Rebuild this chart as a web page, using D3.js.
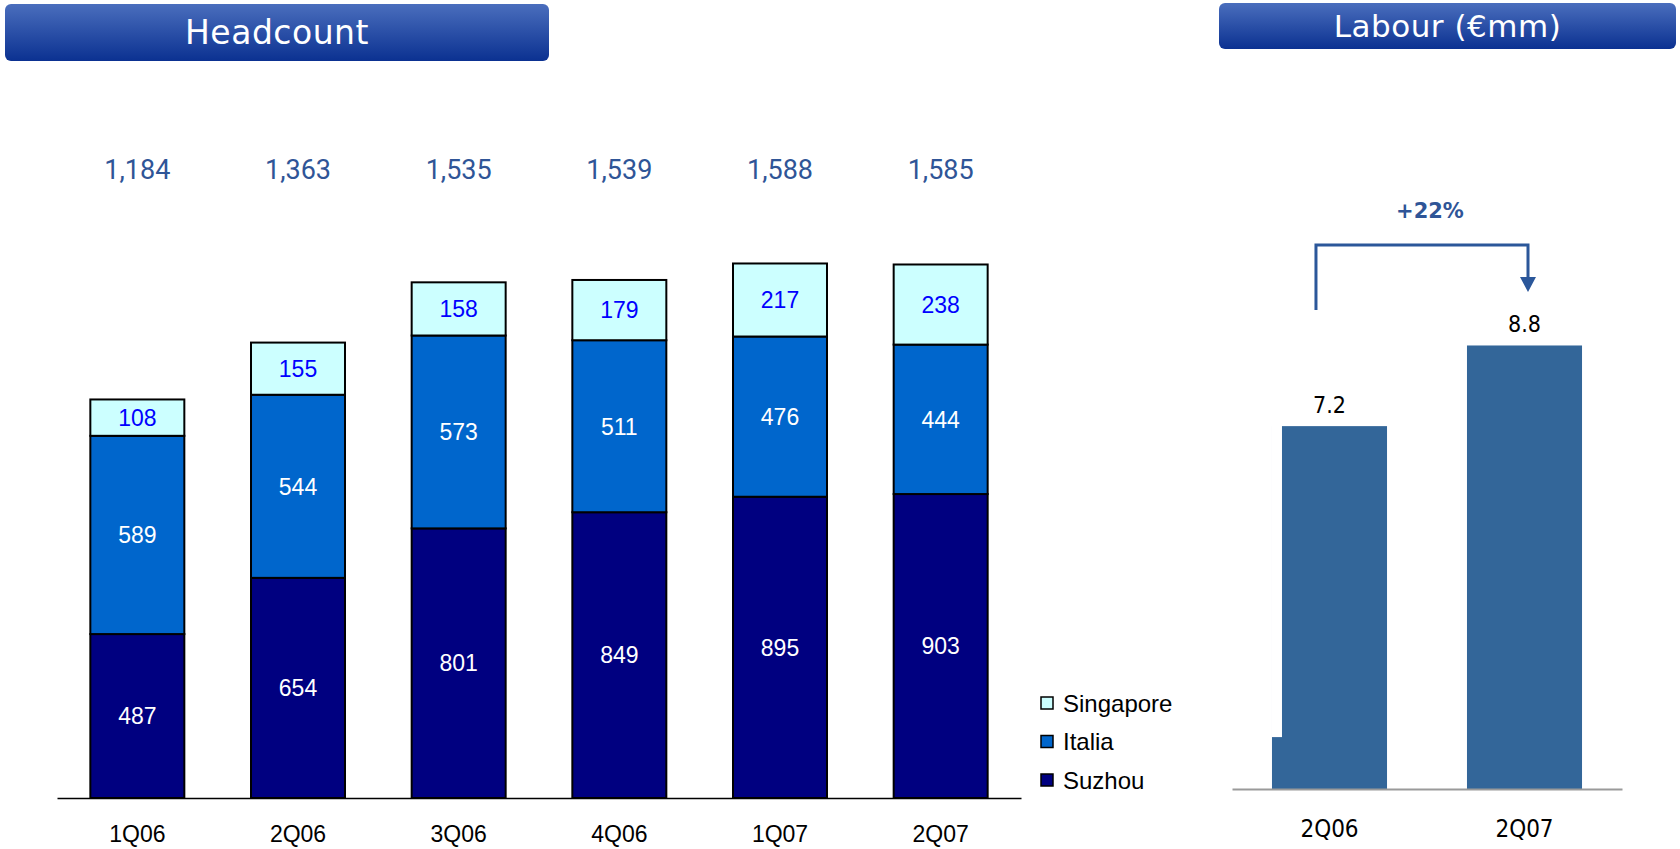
<!DOCTYPE html>
<html>
<head>
<meta charset="utf-8">
<script src="https://cdn.jsdelivr.net/npm/d3@7/dist/d3.min.js"></script>
<style>
  html, body { margin: 0; padding: 0; background: #ffffff; }
  svg { display: block; }
</style>
</head>
<body>
<svg id="chart" width="1680" height="849"></svg>
<script>
// Headcount by site, per quarter
const quarters = ["1Q06", "2Q06", "3Q06", "4Q06", "1Q07", "2Q07"];
const suzhou    = [487, 654, 801, 849, 895, 903];
const italia    = [589, 544, 573, 511, 476, 444];
const singapore = [108, 155, 158, 179, 217, 238];
const totals    = ["1,184", "1,363", "1,535", "1,539", "1,588", "1,585"];
const siteNames = ["Suzhou", "Italia", "Singapore"];

// Labour cost (€mm)
const labourPeriods = ["2Q06", "2Q07"];
const labourValues  = [7.2, 8.8];
const labourGrowth  = "+22%";

const svg = d3.select("#chart");

// ---------- header banners ----------
const defs = svg.append("defs");
const grad = defs.append("linearGradient")
  .attr("id", "bannerGrad").attr("x1", 0).attr("y1", 0).attr("x2", 0).attr("y2", 1);
grad.append("stop").attr("offset", "0%").attr("stop-color", "#4a6ebd");
grad.append("stop").attr("offset", "100%").attr("stop-color", "#0b3191");

function banner(x, y, w, h, text, size) {
  svg.append("rect").attr("x", x).attr("y", y).attr("width", w).attr("height", h)
    .attr("rx", 6).attr("ry", 6).attr("fill", "url(#bannerGrad)");
  svg.append("text").attr("x", x + w / 2).attr("y", y + h / 2)
    .attr("dy", "0.36em").attr("text-anchor", "middle")
    .attr("fill", "#ffffff")
    .attr("font-family", "'DejaVu Sans', Verdana, sans-serif")
    .attr("font-size", size).attr("letter-spacing", "0.5px")
    .text(text);
}
banner(5, 4, 544, 57, "Headcount", 33);
banner(1219, 3, 457, 46, "Labour (€mm)", 31);

// ---------- Headcount stacked bars ----------
const hcBase = 798;
const x = d3.scaleBand().domain(quarters).range([57, 1021])
  .paddingInner(0.415).paddingOuter(0.2075);
const y = d3.scaleLinear().domain([0, 1600]).range([hcBase, hcBase - 1600 * 0.3366]);

const rows = quarters.map((q, i) => ({
  quarter: q, Suzhou: suzhou[i], Italia: italia[i], Singapore: singapore[i]
}));
const stacked = d3.stack().keys(siteNames)(rows);

const fills = { Suzhou: "#000080", Italia: "#0066cc", Singapore: "#ccffff" };
const labelFill = { Suzhou: "#ffffff", Italia: "#ffffff", Singapore: "#0000ff" };

const layers = svg.append("g").selectAll("g").data(stacked).join("g")
  .attr("fill", d => fills[d.key]);

layers.selectAll("rect").data(d => d).join("rect")
  .attr("x", d => x(d.data.quarter))
  .attr("width", x.bandwidth())
  .attr("y", d => y(d[1]))
  .attr("height", d => y(d[0]) - y(d[1]))
  .attr("stroke", "#000000").attr("stroke-width", 2);

layers.selectAll("text").data(d => d.map(v => ({ v, key: d.key }))).join("text")
  .attr("x", d => x(d.v.data.quarter) + x.bandwidth() / 2)
  .attr("y", d => (y(d.v[0]) + y(d.v[1])) / 2)
  .attr("dy", "0.36em").attr("text-anchor", "middle")
  .attr("fill", d => labelFill[d.key])
  .attr("font-family", "'Liberation Sans', Arial, sans-serif")
  .attr("font-size", 23)
  .text(d => d.v.data[d.key]);

// category axis
const xAxis = svg.append("g").attr("transform", `translate(0,${hcBase})`)
  .call(d3.axisBottom(x).tickSize(0).tickPadding(28));
xAxis.select(".domain").attr("stroke", "#000000").attr("stroke-width", 1.5);
xAxis.selectAll("text")
  .attr("font-family", "'Liberation Sans', Arial, sans-serif")
  .attr("font-size", 23).attr("fill", "#000000");

// totals above the bars
svg.append("g").selectAll("text").data(quarters).join("text")
  .attr("x", q => x(q) + x.bandwidth() / 2)
  .attr("y", 179)
  .attr("text-anchor", "middle")
  .attr("fill", "#2f5597")
  .attr("font-family", "Roboto, 'Noto Sans', sans-serif")
  .attr("font-size", 27)
  .text((q, i) => totals[i]);

// legend
const legend = svg.append("g").attr("transform", "translate(1041,703)");
const legendOrder = ["Singapore", "Italia", "Suzhou"];
const li = legend.selectAll("g").data(legendOrder).join("g")
  .attr("transform", (d, i) => `translate(0,${i * 38.5})`);
li.append("rect").attr("x", 0).attr("y", -6).attr("width", 12).attr("height", 12)
  .attr("fill", d => fills[d]).attr("stroke", "#000000").attr("stroke-width", 1.5);
li.append("text").attr("x", 22).attr("y", 0).attr("dy", "0.36em")
  .attr("font-family", "'Liberation Sans', Arial, sans-serif")
  .attr("font-size", 24).attr("fill", "#000000")
  .text(d => d);

// ---------- Labour bars ----------
const lbBase = 789;
const xl = d3.scaleBand().domain(labourPeriods).range([1232, 1622])
  .paddingInner(0.41).paddingOuter(0.205);
const yl = d3.scaleLinear().domain([0, 10]).range([lbBase, lbBase - 504]);

svg.append("g").selectAll("rect").data(labourPeriods).join("rect")
  .attr("x", p => xl(p))
  .attr("width", xl.bandwidth())
  .attr("y", (p, i) => yl(labourValues[i]))
  .attr("height", (p, i) => lbBase - yl(labourValues[i]))
  .attr("fill", "#336699");

// white backing of the growth bracket clips the first bar's upper-left edge
svg.append("rect")
  .attr("x", xl(labourPeriods[0]) - 0.5).attr("width", 10.5)
  .attr("y", yl(labourValues[0]) - 1)
  .attr("height", yl(1.03) - yl(labourValues[0]) + 1)
  .attr("fill", "#ffffff");

svg.append("g").selectAll("text").data(labourPeriods).join("text")
  .attr("x", p => xl(p) + xl.bandwidth() / 2)
  .attr("y", (p, i) => yl(labourValues[i]) - 13)
  .attr("text-anchor", "middle")
  .attr("font-family", "'DejaVu Sans Condensed', 'DejaVu Sans', sans-serif")
  .attr("font-size", 23).attr("fill", "#000000")
  .text((p, i) => labourValues[i].toFixed(1));

const lAxis = svg.append("g").attr("transform", `translate(0,${lbBase})`)
  .call(d3.axisBottom(xl).tickSize(0).tickPadding(31));
lAxis.select(".domain").attr("stroke", "#9a9a9a").attr("stroke-width", 2);
lAxis.selectAll("text")
  .attr("font-family", "'DejaVu Sans Condensed', 'DejaVu Sans', sans-serif")
  .attr("font-size", 24).attr("fill", "#000000");

// growth bracket with arrow
const bx0 = xl(labourPeriods[0]) + 44;
const bx1 = xl(labourPeriods[1]) + xl.bandwidth() / 2 + 3.5;
const bTop = 245, bLeftEnd = 310, arrowTip = 292;
const bracketColor = "#2b579a";
svg.append("path")
  .attr("d", `M${bx0},${bLeftEnd} V${bTop} H${bx1} V${arrowTip - 12}`)
  .attr("fill", "none").attr("stroke", bracketColor).attr("stroke-width", 3);
svg.append("path")
  .attr("d", `M${bx1 - 8},${arrowTip - 15} L${bx1 + 8},${arrowTip - 15} L${bx1},${arrowTip} Z`)
  .attr("fill", bracketColor);
svg.append("text")
  .attr("x", (bx0 + bx1) / 2 + 8).attr("y", 218)
  .attr("text-anchor", "middle")
  .attr("font-family", "'DejaVu Sans', Verdana, sans-serif")
  .attr("font-weight", "bold").attr("font-size", 21)
  .attr("fill", "#2f5597")
  .text(labourGrowth);
</script>
</body>
</html>
